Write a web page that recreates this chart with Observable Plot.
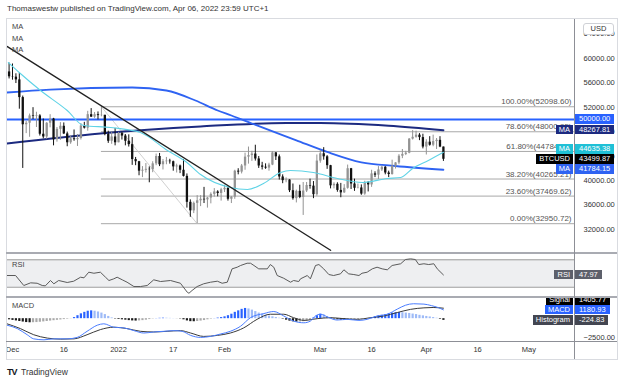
<!DOCTYPE html>
<html><head><meta charset="utf-8">
<script src="https://cdn.jsdelivr.net/npm/d3@7"></script>
<script src="https://cdn.jsdelivr.net/npm/@observablehq/plot@0.6"></script>
<style>
body{margin:0;background:#fff;font-family:"Liberation Sans",Arial,sans-serif;}
#root{position:relative;width:624px;height:383px;overflow:hidden;background:#fff;}
#root svg{overflow:hidden;}
</style></head><body><div id="root"></div>
<script>
// ---------- DATA ----------
const firstCandle = "2021-11-30";
const opens = [57800,
 57000,56950,56500,53600,49150,49400,50600,50500,50600,47600,47150,49400,50100,46700,48400,48900,47650,46200,46850,46700,46900,48950,48600,50800,50400,50800,50650,50700,47550,46450,47150,
 46200,47700,47300,46450,45900,43450,43100,41550,41700,41850,41800,42750,43950,42600,43100,43200,43100,42250,42400,41700,40700,36450,35050,36280,36700,36950,36850,37150,37750,38150,37900,
 38500,38750,36950,37300,41550,41400,42400,43850,44100,44350,43550,42400,42200,42050,42550,44550,43900,40600,40000,40100,38350,37050,38250,37250,38300,39200,39100,37700,
 43200,44400,43900,42450,39150,39400,38400,38000,38750,41950,39450,38750,38800,37800,39650,39300,41100,40900,41750,42200,41250,41000,42350,42900,44000,44300,44500,46800,47100,47450,47050,
 45500,46300,45800,46400,46600,45500];
const highs = [59250,
 59100,57500,57600,53850,49700,50900,51950,51200,50800,50100,49500,50800,50200,48700,49500,49450,47950,47350,48300,47550,49350,49550,51350,51800,51150,51250,52100,50700,48100,47900,48550,
 47900,47950,47550,47500,47050,43800,43150,42300,42800,42250,43100,44350,44450,43450,43800,43500,43200,42700,42550,43450,41100,36850,36500,37550,37550,38900,37250,38000,38700,38350,38750,
 39250,38850,37400,41700,41950,42650,44500,45500,44800,45800,43950,43000,42750,42850,44750,44600,44200,40950,40450,40150,39450,38450,39250,39700,39700,40250,39850,44200,
 44950,45400,44100,42500,39650,39650,39550,39350,42550,42000,40250,39450,39300,39900,39850,41700,41450,42300,42400,42300,41550,43350,42950,44250,45100,44800,46900,48200,48100,47700,47600,
 46700,47200,47450,46900,47200,45500];
const lows = [56650,
 56450,55900,51700,42000,47700,47100,50000,48700,47300,46850,46750,48650,45700,46300,46600,47550,45550,45950,46450,45600,46650,48450,48100,50350,50200,49950,50450,47350,46100,45950,45700,
 46200,46650,45700,45500,42500,42450,40800,40500,41250,39650,41300,42450,42300,41750,42600,42700,41550,41250,41150,40600,35500,34000,34600,32950,35750,36250,35500,36200,37300,37350,36650,
 38050,36650,36250,36950,40950,41100,41700,42700,43150,43200,42000,41750,41850,41550,42450,43300,40100,39500,39650,38050,36800,36350,37050,34300,38050,38600,37050,37450,
 42850,43350,41850,38650,38650,38100,37200,37900,38600,38550,38250,38650,37600,37600,38150,38900,40500,40200,41500,40950,40500,40900,41900,42600,43600,44100,44400,46650,46950,46550,45200,
 44200,45650,45550,45100,45400,43150];
const closes = [57000,
 56950,56500,53600,49150,49400,50600,50500,50600,47600,47150,49400,50100,46700,48400,48900,47650,46200,46850,46700,46900,48950,48600,50800,50400,50800,50650,50700,47550,46450,47150,46200,
 47700,47300,46450,45900,43450,43100,41550,41700,41850,41800,42750,43950,42600,43100,43200,43100,42250,42400,41700,40700,36450,35050,36280,36700,36950,36850,37150,37750,38150,37900,38500,
 38750,36950,37300,41550,41400,42400,43850,44100,44350,43550,42400,42200,42050,42550,44550,43900,40600,40000,40100,38350,37050,38250,37250,38300,39200,39100,37700,43200,
 44400,43900,42450,39150,39400,38400,38000,38750,41950,39450,38750,38800,37800,39650,39300,41100,40900,41750,42200,41250,41000,42350,42900,44000,44300,44500,46800,47100,47450,47050,45500,
 46300,45800,46400,46600,45500,43499.87];

// moving averages: [days after 2021-12-01, value]
const maFast = [[-1.2,59345],[2.3,57545],[8.2,54760],[16,51490],[20.8,49030],[28.7,48700],[37.4,47880],[45.3,44935],[51,42970],[55,41000],[63.7,38880],[68.7,38550],[73.4,39530],[78.4,41330],[81.3,41660],[88,41330],[95,40350],[102.3,39700],[109.6,40350],[113.5,40520],[117,41990],[121.6,43300],[126,44635.38]];
const maMid = [[-1.6,54430],[11,54900],[35,55250],[45,54760],[53.5,53120],[60,51480],[64,50670],[70,49360],[83,46600],[92,44700],[102,43000],[112,42400],[126,41784.15]];
const maSlow = [[-1.6,46080],[25.7,47720],[55,48870],[80,49450],[90,49450],[110,49000],[126,48267.81]];
const levelLine = [50000];
const trendAnchors = [[-1.5,61950],[93,28600]];
const fibStartDay = 26, fibEndDay = 54;
const fibPct = [1, 0.786, 0.618, 0.382, 0.236, 0];
const fibPrice = [52098.60, 48000.95, 44784.11, 40265.21, 37469.62, 32950.72];

const rsi = [[-1.6,47.1],[0.9,47.1],[3.3,32.5],[5.3,36.4],[7.2,35.8],[8.7,32.5],[9.6,32],[11.1,39.8],[12.1,35],[13.5,39.8],[16,36.9],[17.9,38.8],[19.9,44.6],[20.9,43.7],[22.3,51.9],[23.8,50.4],[25.7,51.9],[27.2,44.6],[28.2,39.8],[29.6,42.2],[30.6,44.6],[32.1,40.8],[33.5,37.3],[35.5,31],[37.4,31],[39.4,32.5],[41.3,40.8],[43.3,38.3],[46.2,39.8],[49.1,35.8],[51.1,22.7],[51.6,21.2],[52.5,25.2],[54,31],[55.9,35],[57.9,37.3],[59.9,38.8],[61.3,35.8],[62.8,37.3],[64.2,56.8],[65.7,59.2],[66.7,61.7],[68.6,65],[69.6,65],[70.6,61.7],[72,56.8],[74.5,56.8],[75.4,63.1],[76.4,59.2],[77.4,47.1],[79.3,43.1],[81.3,37.3],[82.2,39.8],[83.7,38.3],[84.2,42.2],[86.2,47.1],[87.1,42.2],[88.6,61.7],[89.6,63.1],[91,56.8],[92.5,48.5],[93.9,47.1],[95.9,49.5],[96.9,55.4],[98.3,49.5],[99.8,48.5],[101.3,47.1],[102.2,50.4],[103.7,51.9],[105.2,56.8],[106.6,59.2],[108.1,56.8],[109.6,55.4],[111,61.7],[113.5,64.2],[114.9,70.4],[116.4,71.4],[117.8,70.4],[118.8,63.1],[120.3,64.2],[121.7,63.1],[123.2,64.2],[124.2,56.8],[126,47.97]];
const rsiBand = [30, 70];

const macdLine = [[-1.6,-870],[1.4,-1325],[4.3,-2150],[6.2,-2700],[9.2,-2830],[12.1,-2700],[16,-2700],[18.9,-2510],[21.8,-1690],[24.8,-870],[26.7,-685],[29.6,-1140],[32.6,-1235],[35.5,-1600],[38.4,-1920],[41.3,-1780],[44.3,-1690],[47.2,-1600],[49.6,-1690],[52.1,-2240],[55,-2510],[57.9,-2375],[60.8,-2055],[63.7,-1690],[66.7,-1005],[69.6,140],[73.5,685],[76.4,960],[79.3,365],[82.2,-320],[85.2,-550],[87.1,-320],[88.6,365],[90.1,595],[92.5,140],[94.9,-180],[97.9,-90],[101.3,-230],[103.7,-90],[106.6,365],[109.6,595],[112.5,1280],[114.9,1800],[117.3,2000],[120.3,1950],[122.5,1750],[124.5,1480],[126,1180.93]];
const signalLine = [[-1.6,-685],[2.3,-1325],[6.2,-2150],[10.2,-2600],[14.1,-2740],[18,-2700],[21.8,-2150],[25.7,-1460],[29.6,-1140],[33.5,-1325],[37.4,-1690],[41.3,-1780],[45.2,-1690],[49.1,-1600],[52.1,-1920],[55.9,-2375],[59.9,-2240],[63.7,-1920],[67.6,-1235],[71.5,-90],[75.4,595],[79.3,595],[82.2,135],[85.2,-230],[89.1,0],[93,135],[96.9,0],[100.8,-90],[104.7,135],[108.6,365],[112.5,820],[116.4,1250],[120.3,1450],[123,1500],[126,1405.77]];
// histogram, one bar per candle from 2021-11-30
const histogram = [-150,-230,-300,-380,-450,-520,-550,-540,-520,-480,-430,-380,-320,-270,-220,-170,-120,-70,-20,150,400,650,850,1000,1050,1000,900,750,550,300,100,-50,-100,-150,-200,-260,-300,-320,-300,-260,-200,-120,-40,20,50,70,60,40,20,-10,-40,-150,-300,-400,-410,-380,-320,-250,-150,-60,20,80,150,250,400,600,850,1050,1250,1370,1300,1150,950,750,600,450,350,250,150,60,-60,-200,-330,-420,-457,-440,-400,-330,-200,100,400,600,500,300,150,-50,-150,-200,-230,-200,-180,-150,-120,-80,-40,30,150,250,350,450,550,650,750,800,820,800,750,700,620,550,450,380,300,230,150,60,-80,-225];

const timeTickDays = [0, 15, 31, 47, 62, 90, 105, 121, 136, 151];
const timeTickLabels = ["Dec","16","2022","17","Feb","Mar","16","Apr","16","May"];
const priceTicks = [32000,36000,40000,44000,48000,52000,56000,60000,64000];
const macdTicks = [-2500];

const priceLabels = [
  {value:50000, tag:null, bg:"#2962ff"},
  {value:48267.81, tag:"MA", bg:"#1c2a80"},
  {value:44635.38, tag:"MA", bg:"#1fc0d6"},
  {value:43499.87, tag:"BTCUSD", bg:"#000000"},
  {value:41784.15, tag:"MA", bg:"#2f63f2"}];
const rsiLabels = [{value:47.97, tag:"RSI", bg:"#5d606b"}];
const macdLabels = [
  {value:1405.77, tag:"Signal", bg:"#000000"},
  {value:1180.93, tag:"MACD", bg:"#2962ff"},
  {value:-224.83, tag:"Histogram", bg:"#434651"}];

// ---------- BUILD ----------
const DAY0 = Date.UTC(2021, 11, 1);
const day = d => new Date(DAY0 + d * 864e5);
const c0 = new Date(firstCandle + "T00:00:00Z");
const candles = closes.map((c, i) => ({date: d3.utcDay.offset(c0, i), open: opens[i], high: highs[i], low: lows[i], close: c}));
const hist = histogram.map((v, i) => ({date: d3.utcDay.offset(c0, i), v, prev: i ? histogram[i-1] : v}));
const pts = arr => arr.map(([d, v]) => ({date: day(d), v}));

const W = 611, MR = 43;
const xDomain = [day(-1.754), day(164.33)];
const font = "Liberation Sans, Arial, sans-serif";
const baseStyle = {fontFamily: font, fontSize: "7.5px", color: "#333", background: "transparent"};
const root = document.getElementById("root");
function place(el, left, top) {
  const d = document.createElement("div");
  d.style.cssText = `position:absolute;left:${left}px;top:${top}px;`;
  d.appendChild(el); root.appendChild(d); return d;
}
function addDiv(css, text) {
  const d = document.createElement("div");
  d.style.cssText = "position:absolute;" + css;
  if (text != null) d.textContent = text;
  root.appendChild(d); return d;
}

const upCol = "#939393", downCol = "#111111";
const fibRows = fibPct.map((p, i) => ({p, v: fibPrice[i]}));

const main = Plot.plot({
  width: W, height: 234, marginLeft: 0, marginRight: MR, marginTop: 0, marginBottom: 0,
  style: baseStyle,
  x: {type: "utc", domain: xDomain, axis: null},
  y: {domain: [28070, 66386], axis: "right", ticks: priceTicks, tickFormat: d3.format(".2f"), tickSize: 0, tickPadding: 9},
  color: {type: "identity"},
  marks: [
    Plot.ruleY(fibRows, {y: "v", x1: () => day(fibStartDay), x2: () => xDomain[1], stroke: "#a8a8a8", strokeWidth: 1}),
    Plot.line([{date: day(fibStartDay), v: fibPrice[0]}, {date: day(fibEndDay), v: fibPrice[5]}], {x: "date", y: "v", stroke: "#c4c4c4", strokeWidth: 0.8}),
    Plot.text(fibRows, {y: "v", text: d => `${(d.p*100).toFixed(2)}%(${d.v.toFixed(2)})`, frameAnchor: "right", textAnchor: "end", dx: -3, dy: -5, fill: "#555", fontSize: 8}),
    Plot.ruleY(levelLine, {stroke: "#2962ff", strokeWidth: 2}),
    Plot.line(pts(maSlow), {x: "date", y: "v", stroke: "#1c2a80", strokeWidth: 2, curve: "monotone-x"}),
    Plot.line(pts(maMid), {x: "date", y: "v", stroke: "#2f63f2", strokeWidth: 1.8, curve: "monotone-x"}),
    Plot.ruleX(candles, {x: "date", y1: "low", y2: "high", stroke: d => d.close >= d.open ? upCol : downCol, strokeWidth: 1}),
    Plot.ruleX(candles, {x: "date", y1: "open", y2: "close", stroke: d => d.close >= d.open ? upCol : downCol, strokeWidth: 2.3}),
    Plot.line(pts(maFast), {x: "date", y: "v", stroke: "#5fd3e6", strokeWidth: 1.1, curve: "monotone-x"}),
    Plot.line(pts(trendAnchors), {x: "date", y: "v", stroke: "#222", strokeWidth: 1.4})
  ]
});
place(main, 6, 19);

const rsiPlot = Plot.plot({
  width: W, height: 44, marginLeft: 0, marginRight: MR, marginTop: 0, marginBottom: 0,
  style: baseStyle,
  x: {type: "utc", domain: xDomain, axis: null},
  y: {domain: [15, 79.2], axis: null},
  marks: [
    Plot.rect([rsiBand], {y1: d => d[0], y2: d => d[1], fill: "#eeeff1"}),
    Plot.ruleY(rsiBand, {x1: () => xDomain[0], x2: () => xDomain[1], stroke: "#9a9a9a", strokeWidth: 1}),
    Plot.line(pts(rsi), {x: "date", y: "v", stroke: "#5a5a5a", strokeWidth: 1})
  ]
});
place(rsiPlot, 6, 253);

const tickMap = new Map(timeTickDays.map((d, i) => [+day(d), timeTickLabels[i]]));
const macdPlot = Plot.plot({
  width: W, height: 62, marginLeft: 0, marginRight: MR, marginTop: 0, marginBottom: 18,
  style: baseStyle,
  x: {type: "utc", domain: xDomain, ticks: timeTickDays.map(day), tickFormat: d => tickMap.get(+d), tickSize: 0, tickPadding: 5, label: null},
  y: {domain: [-3055, 2836], axis: "right", ticks: macdTicks, tickFormat: d3.format(".2f"), tickSize: 0, tickPadding: 9, label: null},
  color: {type: "identity"},
  marks: [
    Plot.ruleX(hist, {x: "date", y1: 0, y2: "v", strokeWidth: 2.2,
      stroke: d => d.v >= 0 ? (d.v >= d.prev ? "#2962ff" : "#9dbaf7") : (d.v <= d.prev ? "#1a1a1a" : "#a9a9a9")}),
    Plot.line(pts(signalLine), {x: "date", y: "v", stroke: "#3a3a3a", strokeWidth: 1, curve: "monotone-x"}),
    Plot.line(pts(macdLine), {x: "date", y: "v", stroke: "#4a7dff", strokeWidth: 1, curve: "monotone-x"})
  ]
});
place(macdPlot, 6, 297);

// ---------- frame & separators ----------
addDiv("left:6px;top:18px;width:610px;height:340px;border:1px solid #d9dbe0;pointer-events:none;");
addDiv("left:6px;top:252px;width:611px;height:2px;background:#a9abb2;");
addDiv("left:6px;top:296px;width:611px;height:2px;background:#a9abb2;");
addDiv("left:6px;top:341px;width:611px;height:1px;background:#8d8f96;");
addDiv("left:574px;top:19px;width:1px;height:340px;background:#8d8f96;");

// ---------- texts ----------
addDiv(`left:7px;top:4px;font-size:8px;color:#333;white-space:nowrap;font-family:${font};`, "Thomaswestw published on TradingView.com, Apr 06, 2022 23:59 UTC+1");
["MA","MA","MA"].forEach((t, i) => addDiv(`left:12px;top:${22 + i*11.7}px;font-size:7.5px;color:#444;font-family:${font};`, t));
addDiv(`left:12px;top:260px;font-size:7.5px;color:#444;font-family:${font};`, "RSI");
addDiv(`left:12px;top:301px;font-size:7.5px;color:#444;font-family:${font};`, "MACD");
addDiv(`left:583px;top:23px;width:29px;height:10px;line-height:10px;border:1px solid #cfd1d6;border-radius:3px;background:#fff;text-align:center;font-size:7.5px;color:#333;font-family:${font};`, "USD");
addDiv(`left:7px;top:367px;font-size:9px;font-weight:900;color:#131722;letter-spacing:-1px;font-family:${font};`, "TV");
addDiv(`left:21px;top:367px;font-size:8.5px;color:#333;font-family:${font};`, "TradingView");

// ---------- right-axis value labels (positioned through the plots' y scales) ----------
function axisLabels(plot, top, items, clipTop, clipBottom) {
  const sy = plot.scale("y");
  const H = 9.6;
  const placed = items.map(d => ({...d, y: top + sy.apply(d.value)})).sort((a, b) => b.y - a.y);
  for (let i = 1; i < placed.length; i++) placed[i].y = Math.min(placed[i].y, placed[i-1].y - H);
  const box = addDiv(`left:0;top:${clipTop}px;width:624px;height:${clipBottom - clipTop}px;overflow:hidden;`);
  for (const p of placed) {
    const t = p.y - clipTop - H / 2;
    const v = document.createElement("div");
    v.style.cssText = `position:absolute;left:575px;top:${t}px;height:${H}px;line-height:${H}px;padding:0 4px;background:${p.bg};color:#fff;font-size:7.5px;font-family:${font};white-space:nowrap;`;
    v.textContent = p.value.toFixed(2);
    box.appendChild(v);
    if (p.tag) {
      const g = document.createElement("div");
      g.style.cssText = `position:absolute;right:51px;top:${t}px;height:${H}px;line-height:${H}px;padding:0 3px;background:${p.bg};color:#fff;font-size:7.5px;font-family:${font};white-space:nowrap;`;
      g.textContent = p.tag;
      box.appendChild(g);
    }
  }
}
axisLabels(main, 19, priceLabels, 19, 252);
axisLabels(rsiPlot, 253, rsiLabels, 254, 296);
axisLabels(macdPlot, 297, macdLabels, 298, 341);
</script></body></html>
